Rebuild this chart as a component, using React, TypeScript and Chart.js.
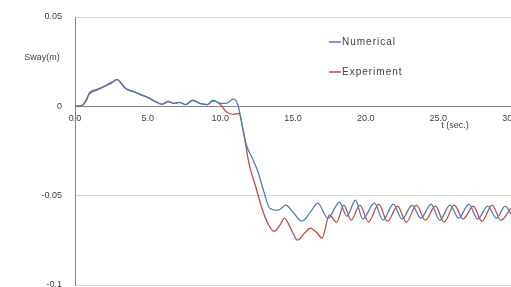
import React, { useEffect, useRef } from "react";
import { Chart, registerables } from "chart.js";

Chart.register(...registerables);

const numTime = [0, 0.5, 0.8, 1.0, 1.5, 2.0, 2.5, 2.9, 3.2, 3.5, 4.0, 4.5, 5.0, 5.5, 6.0, 6.4, 6.8, 7.2, 7.6, 8.1, 8.6, 9.1, 9.5, 10.0, 10.4, 10.9, 11.2, 11.5, 11.8, 12.2, 12.6, 13.0, 13.4, 14.0, 14.5, 15.0, 15.6, 16.2, 16.7, 17.4, 18.2, 18.7, 19.3, 19.8, 20.6, 21.2, 21.9, 22.5, 23.2, 23.8, 24.5, 25.1, 25.8, 26.4, 27.1, 27.7, 28.4, 29.0, 29.6, 30.0];
const numValues = [0, 0.0006, 0.0034, 0.0078, 0.0095, 0.0112, 0.0134, 0.0151, 0.0128, 0.01, 0.0084, 0.0067, 0.005, 0.0028, 0.0011, 0.0028, 0.0017, 0.0022, 0.001, 0.0034, 0.0017, 0.001, 0.0034, 0.0017, 0.0017, 0.004, 0.001, -0.0106, -0.0218, -0.029, -0.0369, -0.048, -0.057, -0.0581, -0.0553, -0.0592, -0.0643, -0.0592, -0.0542, -0.0626, -0.0536, -0.0615, -0.0525, -0.0631, -0.0542, -0.0637, -0.0547, -0.0631, -0.0553, -0.0626, -0.0547, -0.0637, -0.0553, -0.0626, -0.0547, -0.0631, -0.0559, -0.0626, -0.0559, -0.0603];

const expTime = [0, 0.5, 1.0, 1.5, 2.0, 2.5, 2.9, 3.2, 3.5, 4.0, 4.5, 5.0, 5.5, 6.0, 6.4, 6.8, 7.2, 7.6, 8.1, 8.6, 9.1, 9.5, 10.0, 10.4, 10.9, 11.3, 11.6, 12.0, 12.4, 12.9, 13.3, 13.7, 14.1, 14.4, 14.9, 15.3, 15.8, 16.2, 16.6, 17.0, 17.5, 18.0, 18.5, 19.0, 19.6, 20.2, 20.9, 21.5, 22.2, 22.8, 23.5, 24.1, 24.8, 25.4, 26.1, 26.7, 27.4, 28.0, 28.7, 29.3, 30.0];
const expValues = [0, 0.0006, 0.007, 0.009, 0.011, 0.013, 0.015, 0.0125, 0.0098, 0.0083, 0.0066, 0.005, 0.0028, 0.0012, 0.0027, 0.0016, 0.0022, 0.001, 0.0033, 0.0016, 0.001, 0.003, 0.001, -0.003, -0.0045, -0.004, -0.015, -0.033, -0.044, -0.058, -0.066, -0.07, -0.0665, -0.0626, -0.0693, -0.0749, -0.0709, -0.0682, -0.0704, -0.0737, -0.0609, -0.0648, -0.0553, -0.0637, -0.0553, -0.0648, -0.0547, -0.0643, -0.0559, -0.0648, -0.0553, -0.0637, -0.0559, -0.0648, -0.0553, -0.0631, -0.0559, -0.0643, -0.0553, -0.0637, -0.0570];

const seriesNames = ["Numerical", "Experiment"];
const seriesColors = ["#4a7ebb", "#be4b48"];
const yTickLabels: Record<string, string> = { "0.05": "0.05", "0": "0", "-0.05": "-0.05", "-0.1": "-0.1" };
const yTitle = "Sway(m)";
const xTitle = "t (sec.)";

const FONT = "'Liberation Sans', 'DejaVu Sans', sans-serif";

const annotations = {
  id: "annotations",
  afterDatasetsDraw(chart: any) {
    const ctx = chart.ctx;
    ctx.save();
    ctx.font = `9px ${FONT}`;
    ctx.fillStyle = "#404040";
    ctx.textBaseline = "middle";
    ctx.textAlign = "center";
    ctx.fillText(yTitle, 42, 58);
    ctx.fillText(xTitle, 455, 126);
    // legend
    ctx.font = `10px ${FONT}`;
    (ctx as any).letterSpacing = "1px";
    ctx.textAlign = "left";
    chart.data.datasets.forEach((ds: any, i: number) => {
      const y = 42 + i * 30;
      ctx.strokeStyle = ds.borderColor;
      ctx.lineWidth = 1.5;
      ctx.beginPath();
      ctx.moveTo(329, y);
      ctx.lineTo(341, y);
      ctx.stroke();
      ctx.fillStyle = "#404040";
      ctx.fillText(ds.label, 342, y);
    });
    ctx.restore();
  },
};

export default function App() {
  const ref = useRef<HTMLCanvasElement | null>(null);
  useEffect(() => {
    document.body.style.margin = "0";
    const canvas = ref.current!;
    const chart = new Chart(canvas, {
      type: "line",
      data: {
        datasets: [
          {
            label: seriesNames[0],
            data: numTime.map((t, i) => ({ x: t, y: numValues[i] })),
            borderColor: seriesColors[0],
            borderWidth: 1.3,
            pointRadius: 0,
            cubicInterpolationMode: "monotone",
            order: 1,
          },
          {
            label: seriesNames[1],
            data: expTime.map((t, i) => ({ x: t, y: expValues[i] })),
            borderColor: seriesColors[1],
            borderWidth: 1.3,
            pointRadius: 0,
            cubicInterpolationMode: "monotone",
            order: 2,
          },
        ],
      },
      options: {
        animation: false,
        responsive: false,
        maintainAspectRatio: false,
        layout: { padding: { top: 17, bottom: 2, left: 0, right: 0 } },
        plugins: { legend: { display: false }, tooltip: { enabled: false } },
        scales: {
          x: {
            type: "linear",
            min: 0,
            max: 30,
            position: { y: 0 },
            ticks: {
              stepSize: 5,
              callback: (v: any) => Number(v).toFixed(1),
              font: { family: FONT, size: 9 },
              color: "#404040",
              padding: 7,
              maxRotation: 0,
            },
            grid: { display: false, drawTicks: false },
            border: { color: "#868686", width: 1 },
            afterFit: (s: any) => {
              s.paddingLeft = 0;
              s.paddingRight = 0;
              s.paddingTop = 0;
              s.paddingBottom = 0;
            },
          },
          y: {
            min: -0.1,
            max: 0.05,
            ticks: {
              stepSize: 0.05,
              callback: (v: any) => yTickLabels[String(Math.round(Number(v) * 100) / 100)] ?? String(v),
              font: { family: FONT, size: 9 },
              color: "#404040",
              padding: 13,
            },
            grid: { color: "#d9d9d9", drawTicks: false },
            border: { color: "#868686", width: 1 },
            afterFit: (s: any) => {
              s.width = 75;
              s.paddingTop = 0;
              s.paddingBottom = 0;
              s.paddingLeft = 0;
              s.paddingRight = 0;
            },
          },
        },
      },
      plugins: [annotations],
    });
    return () => chart.destroy();
  }, []);
  return (
    <div style={{ position: "relative", width: 511, height: 287 }}>
      <canvas ref={ref} width={511} height={287} style={{ display: "block" }} />
    </div>
  );
}
